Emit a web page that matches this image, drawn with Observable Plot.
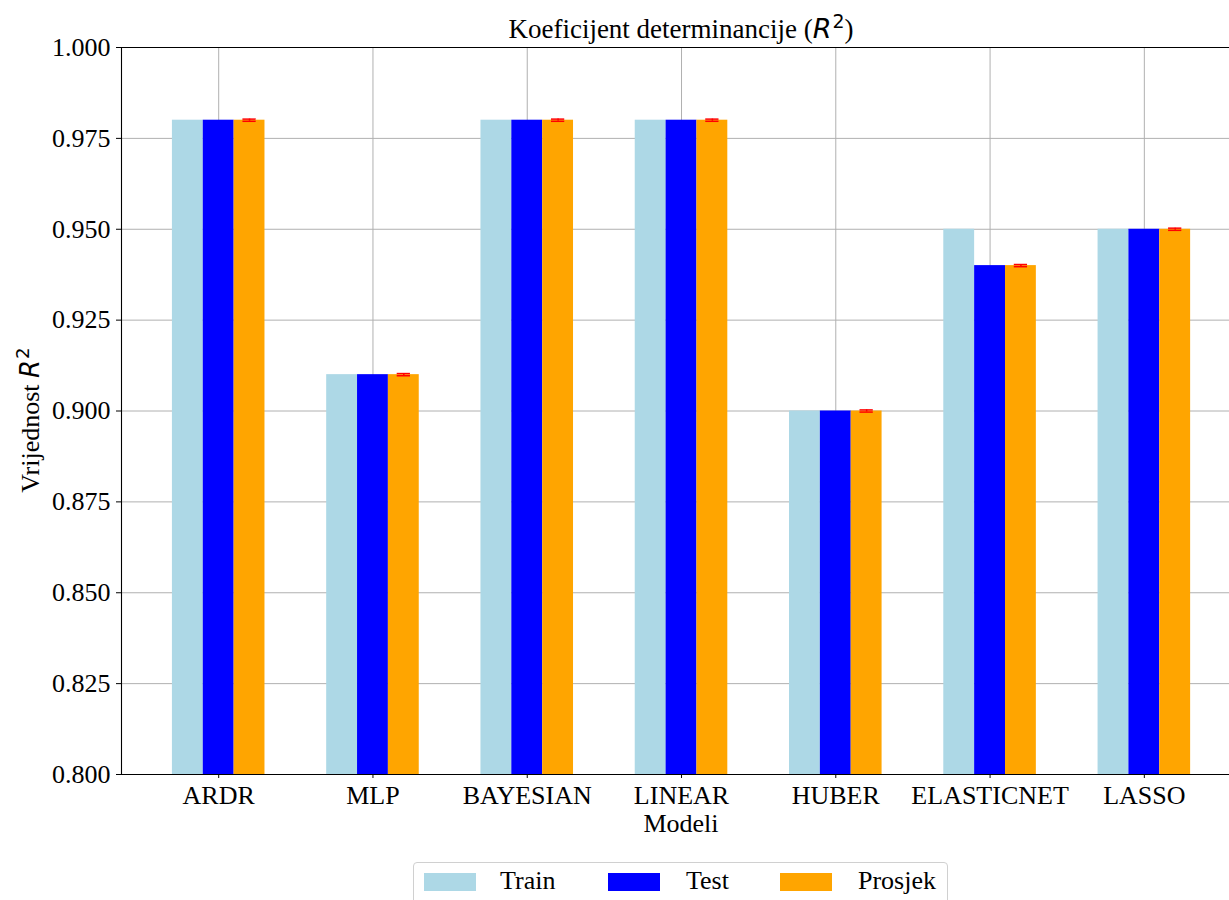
<!DOCTYPE html>
<html><head><meta charset="utf-8">
<script src="https://cdn.jsdelivr.net/npm/d3@7"></script>
<script src="https://cdn.jsdelivr.net/npm/@observablehq/plot@0.6"></script>
<style>
body{margin:0;background:#fff;}
#wrap{position:relative;width:1229px;height:900px;overflow:hidden;font-family:"Liberation Serif","Times New Roman",serif;color:#000;background:#fff;}
.serif{font-family:"Liberation Serif","Times New Roman",serif;}
.m{font-family:"DejaVu Sans";font-style:italic;}
.sup{font-family:"DejaVu Sans";font-size:0.7em;position:relative;top:-0.55em;margin-left:1px;}
#title{position:absolute;left:0;width:1362px;top:15px;text-align:center;font-size:27px;line-height:27px;white-space:nowrap;}
#ylab{position:absolute;left:31px;top:420px;font-size:26px;line-height:26px;white-space:nowrap;transform:translate(-50%,-50%) rotate(-90deg);}
#xlab{position:absolute;left:0;width:1362px;top:811px;text-align:center;font-size:26px;line-height:26px;}
#legend{position:absolute;left:413px;top:862px;width:535px;height:60px;border:1px solid #d0d0d0;border-radius:4px;background:#fff;box-sizing:border-box;}
.sw{position:absolute;top:10px;width:52px;height:18px;}
.lt{position:absolute;top:5px;font-size:26px;line-height:26px;white-space:nowrap;}
</style></head><body>
<div id="wrap">
  <div id="chart" style="position:absolute;left:0;top:0"></div>
  <div id="title" class="serif">Koeficijent determinancije (<span class="m">R</span><span class="sup">2</span>)</div>
  <div id="ylab" class="serif">Vrijednost <span class="m">R</span><span class="sup">2</span></div>
  <div id="xlab" class="serif">Modeli</div>
  <div id="legend" class="serif"></div>
</div>
<script>
const models = ["ARDR", "MLP", "BAYESIAN", "LINEAR", "HUBER", "ELASTICNET", "LASSO"];
const train = [0.98, 0.91, 0.98, 0.98, 0.90, 0.95, 0.95];
const test = [0.98, 0.91, 0.98, 0.98, 0.90, 0.94, 0.95];
const prosjek = [0.98, 0.91, 0.98, 0.98, 0.90, 0.94, 0.95];
const prosjekErr = [0.0003, 0.0003, 0.0003, 0.0003, 0.0003, 0.0003, 0.0003];
const seriesNames = ["Train", "Test", "Prosjek"];
const seriesColors = ["#add8e6", "#0000ff", "#ffa500"];
const yTicks = [0.800, 0.825, 0.850, 0.875, 0.900, 0.925, 0.950, 0.975, 1.000];

const seriesValues = [train, test, prosjek];
const barW = 0.2;
const idx = models.map((_, i) => i);
const barMarks = seriesValues.map((vals, s) => {
  const rows = vals.map((v, i) => ({i, v, x1: i + (s - 1) * barW - barW / 2, x2: i + (s - 1) * barW + barW / 2}));
  return Plot.rectY(rows, {x1: "x1", x2: "x2", y1: 0.8, y2: "v", fill: seriesColors[s]});
});
const errRows = prosjek.map((v, i) => ({i, v, e: prosjekErr[i], c: i + barW}));
const capHalf = 0.043;

const chart = Plot.plot({
  width: 1229,
  height: 850,
  marginTop: 47,
  marginBottom: 76,
  marginLeft: 121,
  marginRight: 0,
  x: {type: "linear", domain: [-0.63, 6.552]},
  y: {type: "linear", domain: [0.8, 1.0]},
  style: {fontFamily: "'Liberation Serif', 'Times New Roman', serif", fontSize: "26px", color: "#000", background: "#fff"},
  marks: [
    Plot.gridX({ticks: idx, stroke: "#b0b0b0", strokeOpacity: 1, strokeWidth: 1}),
    Plot.gridY({ticks: yTicks, stroke: "#b0b0b0", strokeOpacity: 1, strokeWidth: 1}),
    ...barMarks,
    Plot.ruleY(errRows, {y: d => d.v + d.e, x1: d => d.c - capHalf, x2: d => d.c + capHalf, stroke: "red", strokeWidth: 1.5}),
    Plot.ruleY(errRows, {y: d => d.v - d.e, x1: d => d.c - capHalf, x2: d => d.c + capHalf, stroke: "red", strokeWidth: 1.5}),
    Plot.ruleX(errRows, {x: "c", y1: d => d.v - d.e, y2: d => d.v + d.e, stroke: "red", strokeWidth: 1.5}),
    Plot.ruleY([0.8, 1.0], {stroke: "#000", strokeWidth: 1.1}),
    Plot.ruleX([-0.63], {stroke: "#000", strokeWidth: 1.1}),
    Plot.axisX({ticks: idx, tickFormat: i => models[i], tickSize: 4, tickPadding: 7, label: null, stroke: "#000", fontFamily: "Liberation Serif", fontSize: 26}),
    Plot.axisY({ticks: yTicks, tickFormat: d3.format(".3f"), tickSize: 5, tickPadding: 6, label: null, stroke: "#000", fontFamily: "Liberation Serif", fontSize: 26})
  ]
});
document.getElementById("chart").appendChild(chart);

const legend = document.getElementById("legend");
const swLeft = [10, 194, 366];
const txtLeft = [86, 272, 444];
seriesNames.forEach((name, s) => {
  const sw = document.createElement("div");
  sw.className = "sw";
  sw.style.left = swLeft[s] + "px";
  sw.style.background = seriesColors[s];
  legend.appendChild(sw);
  const t = document.createElement("div");
  t.className = "lt serif";
  t.style.left = txtLeft[s] + "px";
  t.textContent = name;
  legend.appendChild(t);
});
</script>
</body></html>
